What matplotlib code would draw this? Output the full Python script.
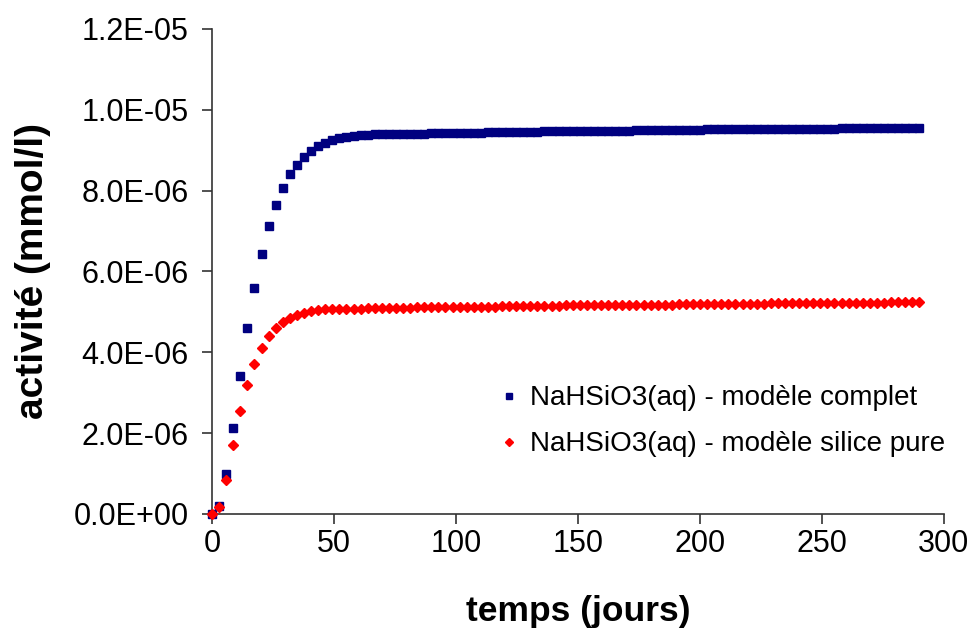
import numpy as np
import matplotlib.pyplot as plt
from matplotlib.ticker import FuncFormatter, MultipleLocator

plt.rcParams['font.family'] = ['Liberation Sans', 'DejaVu Sans']

# temps (jours) : 101 pas de ~2.9 jours
temps = [0.0, 2.9, 5.8, 8.7, 11.6, 14.5, 17.4, 20.3, 23.2, 26.1,
         29.0, 31.9, 34.8, 37.7, 40.6, 43.5, 46.4, 49.3, 52.2, 55.1,
         58.0, 60.9, 63.8, 66.7, 69.6, 72.5, 75.4, 78.3, 81.2, 84.1,
         87.0, 89.9, 92.8, 95.7, 98.6, 101.5, 104.4, 107.3, 110.2, 113.1,
         116.0, 118.9, 121.8, 124.7, 127.6, 130.5, 133.4, 136.3, 139.2, 142.1,
         145.0, 147.9, 150.8, 153.7, 156.6, 159.5, 162.4, 165.3, 168.2, 171.1,
         174.0, 176.9, 179.8, 182.7, 185.6, 188.5, 191.4, 194.3, 197.2, 200.1,
         203.0, 205.9, 208.8, 211.7, 214.6, 217.5, 220.4, 223.3, 226.2, 229.1,
         232.0, 234.9, 237.8, 240.7, 243.6, 246.5, 249.4, 252.3, 255.2, 258.1,
         261.0, 263.9, 266.8, 269.7, 272.6, 275.5, 278.4, 281.3, 284.2, 287.1,
         290.0]

# activité (x 1E-06 mmol/l)
complet = [0.00, 0.19, 0.98, 2.13, 3.40, 4.59, 5.60, 6.43, 7.12, 7.65,
           8.07, 8.40, 8.64, 8.82, 8.98, 9.09, 9.17, 9.24, 9.29, 9.32,
           9.35, 9.37, 9.38, 9.39, 9.39, 9.40, 9.40, 9.40, 9.41, 9.41,
           9.41, 9.42, 9.42, 9.42, 9.42, 9.43, 9.43, 9.43, 9.43, 9.44,
           9.44, 9.44, 9.44, 9.45, 9.45, 9.45, 9.45, 9.46, 9.46, 9.46,
           9.46, 9.47, 9.47, 9.47, 9.47, 9.48, 9.48, 9.48, 9.48, 9.48,
           9.49, 9.49, 9.49, 9.49, 9.49, 9.50, 9.50, 9.50, 9.50, 9.50,
           9.51, 9.51, 9.51, 9.51, 9.51, 9.51, 9.52, 9.52, 9.52, 9.52,
           9.52, 9.52, 9.53, 9.53, 9.53, 9.53, 9.53, 9.53, 9.53, 9.54,
           9.54, 9.54, 9.54, 9.54, 9.54, 9.54, 9.55, 9.55, 9.55, 9.55,
           9.55]

silice = [0.00, 0.17, 0.85, 1.70, 2.54, 3.18, 3.70, 4.10, 4.39, 4.60,
          4.74, 4.84, 4.92, 4.98, 5.02, 5.04, 5.06, 5.07, 5.07, 5.08,
          5.08, 5.08, 5.09, 5.09, 5.09, 5.10, 5.10, 5.10, 5.10, 5.11,
          5.11, 5.11, 5.11, 5.12, 5.12, 5.12, 5.12, 5.13, 5.13, 5.13,
          5.13, 5.14, 5.14, 5.14, 5.14, 5.15, 5.15, 5.15, 5.15, 5.15,
          5.16, 5.16, 5.16, 5.16, 5.16, 5.17, 5.17, 5.17, 5.17, 5.17,
          5.18, 5.18, 5.18, 5.18, 5.18, 5.18, 5.19, 5.19, 5.19, 5.19,
          5.19, 5.19, 5.20, 5.20, 5.20, 5.20, 5.20, 5.20, 5.20, 5.21,
          5.21, 5.21, 5.21, 5.21, 5.21, 5.21, 5.21, 5.22, 5.22, 5.22,
          5.22, 5.22, 5.22, 5.22, 5.22, 5.22, 5.23, 5.23, 5.23, 5.23,
          5.23]

labels = ['NaHSiO3(aq) - modèle complet', 'NaHSiO3(aq) - modèle silice pure']

t = np.array(temps)
y1 = np.array(complet) * 1e-6
y2 = np.array(silice) * 1e-6

fig = plt.figure(figsize=(9.79, 6.4), dpi=100)
ax = fig.add_axes([0.2166, 0.197, 0.7474, 0.758])

ax.plot(t, y1, 's', color='#000080', markersize=6.2, label=labels[0], clip_on=False, zorder=3)
ax.plot(t, y2, 'D', color='#ff0000', markersize=5.4, label=labels[1], clip_on=False, zorder=4)

ax.set_xlim(0, 300)
ax.set_ylim(0, 1.2e-5)
ax.xaxis.set_major_locator(MultipleLocator(50))
ax.yaxis.set_major_locator(MultipleLocator(2e-6))
ax.yaxis.set_major_formatter(FuncFormatter(lambda v, p: f'{v:.1E}'))

for s in ['top', 'right']:
    ax.spines[s].set_visible(False)
for s in ['left', 'bottom']:
    ax.spines[s].set_linewidth(1.2)
    ax.spines[s].set_color('#333333')
ax.tick_params(direction='out', length=7, width=1.2, color='#333333', labelsize=22)
ax.tick_params(axis='y', pad=10)
ax.tick_params(axis='x', pad=4)

ax.set_xlabel('temps (jours)', fontsize=25.5, fontweight='bold', labelpad=26)
ax.set_ylabel('activité (mmol/l)', fontsize=28, fontweight='bold', labelpad=16)

leg = ax.legend(loc='upper left', bbox_to_anchor=(0.513, 0.398), bbox_transform=fig.transFigure,
                frameon=False, fontsize=20, handlelength=0.5, handletextpad=0.5,
                labelspacing=0.72, borderaxespad=0, borderpad=0)
for h in leg.legend_handles:
    h.set_markersize(4.5)

fig.savefig('out.png', dpi=100)
